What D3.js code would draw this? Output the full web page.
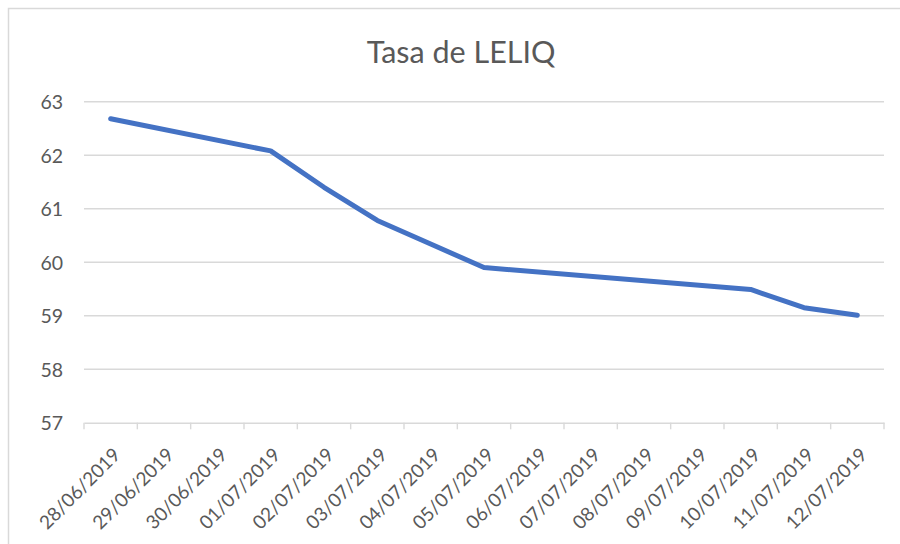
<!DOCTYPE html>
<html>
<head>
<meta charset="utf-8">
<script src="https://cdn.jsdelivr.net/npm/d3@7"></script>
<style>
  body { margin: 0; background: #fff; }
  text { font-family: Lato, "Open Sans", sans-serif; fill: #595959; }
</style>
</head>
<body>
<script>
// data (null = no quote that day)
var dates = ["28/06/2019", "29/06/2019", "30/06/2019", "01/07/2019", "02/07/2019",
             "03/07/2019", "04/07/2019", "05/07/2019", "06/07/2019", "07/07/2019",
             "08/07/2019", "09/07/2019", "10/07/2019", "11/07/2019", "12/07/2019"];
var tasa = [62.68, null, null, 62.08, 61.40, 60.78, 60.34, 59.90, null, null, null, null, 59.49, 59.15, 59.01];
var yTicks = [57, 58, 59, 60, 61, 62, 63];
var title = "Tasa de LELIQ";

var width = 900, height = 544;
var plotLeft = 84, plotRight = 884, plotTop = 101.7, plotBottom = 422.7;

var svg = d3.select("body").append("svg")
    .attr("width", width).attr("height", height);

// chart border (cut off at right/bottom like the reference)
svg.append("rect")
    .attr("x", 8.5).attr("y", 8.5)
    .attr("width", 900).attr("height", 600)
    .attr("fill", "none").attr("stroke", "#d9d9d9").attr("stroke-width", 1.5);

var x = d3.scaleBand().domain(dates).range([plotLeft, plotRight]).padding(0);
var y = d3.scaleLinear().domain([57, 63]).range([plotBottom, plotTop]);

// gridlines
svg.append("g").selectAll("line")
    .data(yTicks.slice(1))
    .enter().append("line")
    .attr("x1", plotLeft).attr("x2", plotRight)
    .attr("y1", function(d) { return y(d); })
    .attr("y2", function(d) { return y(d); })
    .attr("stroke", "#d9d9d9").attr("stroke-width", 1.4);

// y labels
svg.append("g").selectAll("text")
    .data(yTicks)
    .enter().append("text")
    .attr("x", 63)
    .attr("y", function(d) { return y(d); })
    .attr("text-anchor", "end")
    .attr("dominant-baseline", "central")
    .style("font-size", "19.5px")
    .text(function(d) { return d; });

// x axis line + tick marks between categories
var xAxis = d3.axisBottom(x).tickSize(0).tickFormat("");
var gx = svg.append("g").attr("transform", "translate(0," + plotBottom + ")").call(xAxis);
gx.select(".domain").attr("stroke", "#d9d9d9").attr("stroke-width", 1.4);
var bounds = dates.map(function(d) { return x(d); }).concat([plotRight]);
gx.selectAll(".sep").data(bounds).enter().append("line")
    .attr("class", "sep")
    .attr("x1", function(d) { return d; }).attr("x2", function(d) { return d; })
    .attr("y1", 0).attr("y2", 6.6)
    .attr("stroke", "#d9d9d9").attr("stroke-width", 1.4);

// x labels, rotated
svg.append("g").selectAll("text")
    .data(dates)
    .enter().append("text")
    .attr("transform", function(d) {
        return "translate(" + (x(d) + x.bandwidth() / 2 + 11) + ",456) rotate(-45)";
    })
    .attr("text-anchor", "end")
    .style("font-size", "19px")
    .text(function(d) { return d; });

// the line (gaps bridged like Excel)
var pts = dates.map(function(d, i) { return { d: d, v: tasa[i] }; })
    .filter(function(p) { return p.v !== null; });
var line = d3.line()
    .x(function(p) { return x(p.d) + x.bandwidth() / 2; })
    .y(function(p) { return y(p.v); });
svg.append("path")
    .datum(pts)
    .attr("d", line)
    .attr("fill", "none")
    .attr("stroke", "#4472c4")
    .attr("stroke-width", 5)
    .attr("stroke-linecap", "round")
    .attr("stroke-linejoin", "round");

// title
svg.append("text")
    .attr("x", 461).attr("y", 63)
    .attr("text-anchor", "middle")
    .style("font-size", "30.5px")
    .text(title);
</script>
</body>
</html>
